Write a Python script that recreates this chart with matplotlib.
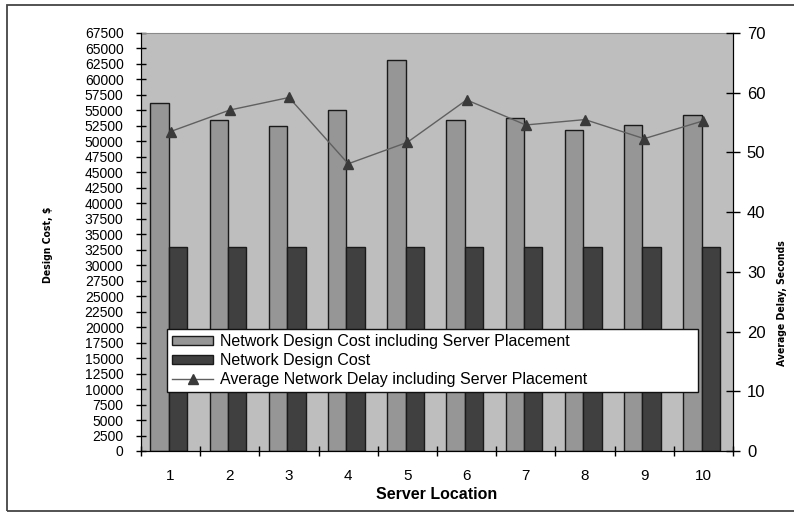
import matplotlib
matplotlib.use("Agg")
import matplotlib.pyplot as plt
import numpy as np
from matplotlib.patches import Rectangle

locations = ["1", "2", "3", "4", "5", "6", "7", "8", "9", "10"]
cost_with_server = [56200, 53500, 52500, 55000, 63100, 53500, 53800, 51800, 52600, 54300]
cost_network = [33000, 33000, 33000, 33000, 33000, 33000, 33000, 33000, 33000, 33000]
avg_delay = [53.5, 57.1, 59.2, 48.1, 51.7, 58.8, 54.6, 55.5, 52.3, 55.3]

C_BG, C_LIGHT, C_DARK, C_LINE = "#bebebe", "#969696", "#404040", "#606060"
FONT = "Liberation Sans"

fig = plt.figure(figsize=(7.94, 5.13), dpi=100)
ax = fig.add_axes([141 / 794, 1 - 451 / 513, 592 / 794, 418 / 513])
ax.set_facecolor(C_BG)

x = np.arange(len(locations))
w = 0.31
b1 = ax.bar(x - 0.185, cost_with_server, w, color=C_LIGHT, edgecolor="#1a1a1a", lw=1.0,
            label="Network Design Cost including Server Placement")
b2 = ax.bar(x + 0.125, cost_network, w, color=C_DARK, edgecolor="#1a1a1a", lw=1.0,
            label="Network Design Cost")
ax.set_xlim(-0.5, len(locations) - 0.5)
ax.set_ylim(0, 67500)
ax.set_yticks(np.arange(0, 67501, 2500))
ax.tick_params(axis="y", direction="inout", length=7, width=1, pad=9, labelsize=10)
ax.set_xticks(x)
ax.set_xticklabels(locations, fontsize=11, family=FONT)
ax.set_xticks(np.arange(-0.5, len(locations)), minor=True)
ax.tick_params(axis="x", which="major", length=0, pad=13)
ax.tick_params(axis="x", which="minor", direction="inout", length=7, width=1)
for lab in ax.get_yticklabels():
    lab.set_family(FONT)
ax.spines["top"].set_color("#8a8a8a")
ax.set_xlabel("Server Location", fontsize=11.5, fontweight="bold", family=FONT, labelpad=3)

ax2 = ax.twinx()
ln, = ax2.plot(x, avg_delay, color=C_LINE, lw=1.0, marker="^", ms=6.5, mfc="#3a3a3a",
               mec="#3a3a3a", label="Average Network Delay including Server Placement")
ax2.set_ylim(0, 70)
ax2.set_yticks(np.arange(0, 71, 10))
ax2.tick_params(axis="y", direction="inout", length=10, width=1, pad=5, labelsize=12)
for lab in ax2.get_yticklabels():
    lab.set_family(FONT)
ax2.spines["top"].set_visible(False)

leg = ax2.legend([b1, b2, ln], [b1.get_label(), b2.get_label(), ln.get_label()],
                 loc="lower left", bbox_to_anchor=(0.044, 0.141, 0.897, 0.151), mode="expand",
                 prop={"family": FONT, "size": 11.5}, frameon=True, fancybox=False,
                 edgecolor="#111111", framealpha=1, borderpad=0.3, labelspacing=0.25,
                 handlelength=2.6, handleheight=0.45, handletextpad=0.4, borderaxespad=0)
leg.get_frame().set_linewidth(1.0)
leg.set_zorder(10)

fig.text(48 / 794, 1 - 245 / 513, "Design Cost, $", rotation=90, ha="center", va="center",
         fontsize=7.5, fontweight="bold", family="DejaVu Sans", fontstretch="condensed")
fig.text(782 / 794, 1 - 303 / 513, "Average Delay, Seconds", rotation=90, ha="center",
         va="center", fontsize=7.5, fontweight="bold", family="DejaVu Sans",
         fontstretch="condensed")

fig.patches.append(Rectangle((7 / 794, 1 - 511 / 513), 800 / 794, 506 / 513,
                             transform=fig.transFigure, fill=False, ec="#444444", lw=1.3))

fig.savefig("out.png", dpi=100)
